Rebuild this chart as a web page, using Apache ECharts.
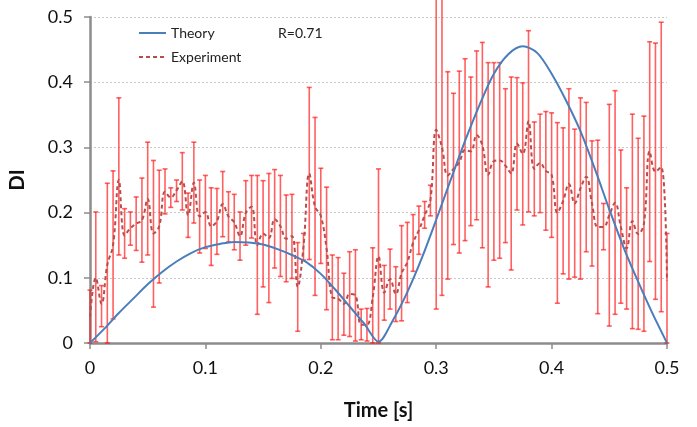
<!DOCTYPE html>
<html>
<head>
<meta charset="utf-8">
<script src="https://cdn.jsdelivr.net/npm/echarts@6/dist/echarts.min.js"></script>
<style>html,body{margin:0;padding:0;background:#fff}#c{width:697px;height:427px}</style>
</head>
<body>
<div id="c"></div>
<script>
// Experiment: time step 0.005 s, 101 samples
var expMean = [0.04,0.10,0.06,0.12,0.15,0.25,0.165,0.176,0.183,0.188,
0.221,0.168,0.179,0.232,0.223,0.234,0.248,0.196,0.246,0.194,
0.201,0.179,0.187,0.213,0.194,0.185,0.164,0.200,0.209,0.150,
0.168,0.161,0.190,0.179,0.160,0.164,0.086,0.148,0.260,0.209,
0.195,0.145,0.070,0.068,0.060,0.075,0.073,0.028,0.028,0.070,
0.133,0.077,0.098,0.075,0.107,0.124,0.154,0.173,0.196,0.219,
0.327,0.300,0.257,0.267,0.277,0.296,0.294,0.319,0.303,0.258,
0.279,0.280,0.272,0.260,0.306,0.290,0.340,0.267,0.276,0.264,
0.258,0.200,0.218,0.244,0.214,0.237,0.255,0.214,0.178,0.178,
0.196,0.215,0.178,0.145,0.187,0.167,0.183,0.294,0.263,0.270,0.095];
var expLow = [0.0,0.002,0.025,0.0,0.037,0.135,0.130,0.150,0.142,0.124,
0.135,0.055,0.092,0.198,0.208,0.217,0.204,0.162,0.184,0.138,
0.145,0.119,0.136,0.163,0.155,0.143,0.127,0.150,0.161,0.044,
0.086,0.062,0.115,0.102,0.094,0.099,0.018,0.127,0.128,0.073,
0.122,0.051,0.005,0.005,0.012,0.010,0.003,0.005,0.003,0.0,
0.0,0.035,0.052,0.033,0.034,0.062,0.110,0.136,0.176,0.195,
0.052,0.073,0.098,0.151,0.138,0.157,0.180,0.189,0.146,0.086,
0.127,0.130,0.154,0.112,0.204,0.181,0.201,0.195,0.200,0.173,
0.162,0.061,0.106,0.098,0.101,0.098,0.140,0.118,0.045,0.143,
0.026,0.044,0.061,0.052,0.022,0.021,0.018,0.125,0.067,0.048,0.0];
var expHigh = [0.081,0.201,0.088,0.245,0.264,0.376,0.206,0.201,0.224,0.253,
0.308,0.280,0.265,0.267,0.238,0.250,0.292,0.230,0.308,0.250,
0.257,0.238,0.237,0.263,0.232,0.228,0.201,0.249,0.257,0.257,
0.249,0.260,0.266,0.257,0.227,0.228,0.154,0.168,0.392,0.346,
0.268,0.239,0.135,0.131,0.107,0.140,0.143,0.052,0.053,0.146,
0.267,0.119,0.144,0.117,0.180,0.185,0.197,0.210,0.217,0.242,
0.600,0.540,0.416,0.383,0.417,0.436,0.408,0.448,0.461,0.430,
0.430,0.430,0.390,0.408,0.407,0.399,0.479,0.339,0.351,0.355,
0.353,0.338,0.330,0.390,0.328,0.376,0.369,0.310,0.311,0.214,
0.366,0.387,0.296,0.238,0.351,0.314,0.348,0.462,0.460,0.492,0.168];
// Theory: time step 0.0125 s
var theory = [0,0.022,0.046,0.068,0.090,0.109,0.125,0.138,0.147,0.152,
0.155,0.154,0.151,0.144,0.135,0.124,0.106,0.082,0.056,0.030,
0.002,0.035,0.078,0.130,0.189,0.250,0.310,0.365,0.413,0.443,
0.455,0.445,0.413,0.372,0.325,0.267,0.205,0.146,0.094,0.045,0];
var expStep = 0.005, theoryStep = 0.0125;
var xTicks = [0, 0.5, 0.1];
var yTicks = [0, 0.5, 0.1];

var meanData = expMean.map(function(v,i){return [+(i*expStep).toFixed(4), v];});
var barData = expMean.map(function(v,i){return [+(i*expStep).toFixed(4), expLow[i], expHigh[i]];});
var theoryData = theory.map(function(v,i){return [+(i*theoryStep).toFixed(4), v];});

var FONT = 'Lato, "Open Sans", sans-serif';
var chart = echarts.init(document.getElementById('c'), null, {renderer:'canvas'});
chart.setOption({
  animation:false,
  backgroundColor:'#fff',
  grid:{left:89, right:30, top:17, bottom:84},
  legend:{
    data:['Theory','Experiment'], orient:'vertical', left:133, top:21,
    itemWidth:27, itemHeight:10, itemGap:10,
    itemStyle:{opacity:0},
    textStyle:{fontFamily:FONT, fontSize:14, color:'#222'}
  },
  graphic:[{type:'text', left:278, top:26, style:{text:'R=0.71', font:'14px '+FONT, fill:'#222'}}],
  xAxis:{
    type:'value', min:xTicks[0], max:xTicks[1], interval:xTicks[2],
    name:'Time [s]', nameLocation:'middle', nameGap:58,
    nameTextStyle:{fontFamily:FONT, fontSize:20, fontWeight:'bold', color:'#111'},
    axisLine:{lineStyle:{color:'#8c8c8c', width:2.5}},
    axisTick:{show:true, length:6, lineStyle:{color:'#8c8c8c', width:1.5}},
    axisLabel:{fontFamily:FONT, fontSize:18, color:'#111', margin:16},
    splitLine:{show:false}
  },
  yAxis:{
    type:'value', min:yTicks[0], max:yTicks[1], interval:yTicks[2],
    name:'DI', nameLocation:'middle', nameGap:62, nameRotate:90,
    nameTextStyle:{fontFamily:FONT, fontSize:20, fontWeight:'bold', color:'#111'},
    axisLine:{show:true, lineStyle:{color:'#8c8c8c', width:2.5}},
    axisTick:{show:true, length:6, lineStyle:{color:'#8c8c8c', width:1.5}},
    axisLabel:{fontFamily:FONT, fontSize:18, color:'#111', margin:17},
    splitLine:{show:true, lineStyle:{color:'#c8c8c8', type:[2,2], width:1}}
  },
  series:[
    {
      type:'custom', name:'errors', clip:false, z:1,
      data:barData,
      renderItem:function(params, api){
        var x = api.value(0), lo = api.value(1), hi = api.value(2);
        var a = api.coord([x, lo]), b = api.coord([x, hi]);
        var c = 2.5;
        var st = {stroke:'rgba(255,20,20,0.68)', lineWidth:1.6};
        return {type:'group', children:[
          {type:'line', shape:{x1:a[0],y1:a[1],x2:b[0],y2:b[1]}, style:st},
          {type:'line', shape:{x1:b[0]-c,y1:b[1],x2:b[0]+c,y2:b[1]}, style:st},
          {type:'line', shape:{x1:a[0]-c,y1:a[1],x2:a[0]+c,y2:a[1]}, style:st}
        ]};
      }
    },
    {
      type:'line', name:'Experiment', data:meanData, smooth:0.4, symbol:'none', z:3,
      lineStyle:{color:'#b84e4c', width:2, type:[4,3]},
      itemStyle:{color:'#b84e4c'}
    },
    {
      type:'line', name:'Theory', data:theoryData, smooth:0.3, symbol:'none', z:4,
      lineStyle:{color:'#4a7ebb', width:2},
      itemStyle:{color:'#4a7ebb'}
    }
  ]
});
</script>
</body>
</html>
